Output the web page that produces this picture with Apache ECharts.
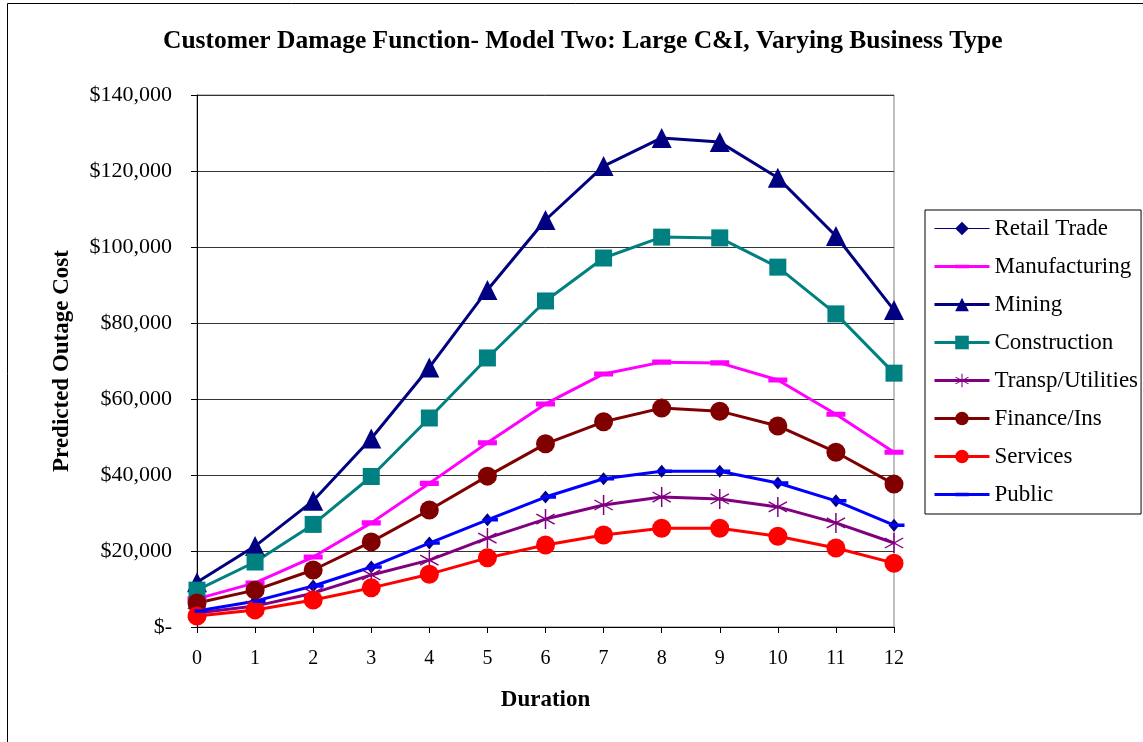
<!DOCTYPE html>
<html>
<head>
<meta charset="utf-8">
<style>
  html, body { margin: 0; padding: 0; background: #fff; }
  #chart { width: 1143px; height: 742px; }
</style>
<script src="https://cdn.jsdelivr.net/npm/echarts@6/dist/echarts.min.js"></script>
</head>
<body>
<div id="chart"></div>
<script>
// Outage duration (hours) on the category axis
const durations = ['0', '1', '2', '3', '4', '5', '6', '7', '8', '9', '10', '11', '12'];

// Predicted outage cost ($) by business type
const retailTrade   = [4200, 6800, 10800, 15800, 22100, 28200, 34200, 39000, 41000, 41000, 37900, 33200, 26800];
const manufacturing = [7400, 11600, 18400, 27400, 37800, 48500, 58700, 66600, 69700, 69500, 65000, 56000, 46000];
const mining        = [11800, 21300, 33200, 49600, 68300, 88700, 107100, 121300, 128700, 127600, 118200, 102900, 83400];
const construction  = [9700, 17100, 27000, 39600, 55000, 70800, 85800, 97100, 102600, 102400, 94700, 82400, 66800];
const transpUtil    = [3700, 5500, 8900, 13700, 17600, 23400, 28400, 32100, 34200, 33700, 31600, 27400, 22100];
const financeIns    = [6300, 9700, 15000, 22400, 30800, 39700, 48200, 54000, 57600, 56800, 52900, 46000, 37600];
const services      = [2900, 4500, 7100, 10300, 13900, 18200, 21600, 24200, 26000, 26000, 23900, 20800, 16800];
const publicSector  = [4200, 6800, 10800, 15800, 22100, 28200, 34200, 39000, 41000, 41000, 37900, 33200, 26800];

// Value axis ticks
const yTicks = [0, 20000, 40000, 60000, 80000, 100000, 120000, 140000];

const FONT = "'Liberation Serif', 'Times New Roman', serif";

// Marker shapes. The dash keeps a square bounding box (two tiny corner specks)
// so it stays a flat bar both on the lines and in the legend.
const dashSymbol = 'path://M0,0L0.01,0L0.01,0.01Z M12,12L11.99,12L11.99,11.99Z M0,4.4L12,4.4L12,7.6L0,7.6Z';
const starSymbol = 'path://M-0.7,-10L0.7,-10L0.7,10L-0.7,10Z' +
  'M8.3,5.6L-8.96,-4.44L-8.3,-5.6L8.96,4.44Z' +
  'M8.96,-4.44L-8.3,5.6L-8.96,4.44L8.3,-5.6Z';

function lineSeries(name, data, color, width, symbol, size, extra) {
  return Object.assign({
    name: name,
    type: 'line',
    data: data,
    symbol: symbol,
    symbolSize: size,
    showSymbol: true,
    showAllSymbol: true,
    color: color,
    lineStyle: { color: color, width: width },
    itemStyle: { color: color },
    emphasis: { disabled: true },
    animation: false
  }, extra || {});
}

function legendEntry(name, width) {
  return { name: name, lineStyle: { width: width } };
}

const chart = echarts.init(document.getElementById('chart'), null, { renderer: 'canvas' });

chart.setOption({
  backgroundColor: '#ffffff',
  animation: false,
  title: {
    text: 'Customer Damage Function- Model Two: Large C&I, Varying Business Type',
    left: 163,
    top: 28,
    padding: 0,
    textStyle: { fontFamily: FONT, fontSize: 25.5, fontWeight: 'bold', color: '#000' }
  },
  graphic: [{
    type: 'rect',
    shape: { x: 7.5, y: 3.5, width: 1200, height: 800 },
    style: { fill: 'none', stroke: '#000', lineWidth: 1 },
    silent: true
  }],
  legend: {
    orient: 'vertical',
    left: 925,
    top: 210,
    padding: [7, 3, 8, 8],
    itemWidth: 55,
    itemHeight: 17,
    itemGap: 15,
    borderColor: '#000',
    borderWidth: 1,
    backgroundColor: '#fff',
    selectedMode: false,
    textStyle: { fontFamily: FONT, fontSize: 23, color: '#000', lineHeight: 23 },
    data: [
      legendEntry('Retail Trade', 1),
      legendEntry('Manufacturing', 3),
      legendEntry('Mining', 3),
      legendEntry('Construction', 3),
      legendEntry('Transp/Utilities', 3),
      legendEntry('Finance/Ins', 3),
      legendEntry('Services', 3),
      legendEntry('Public', 3)
    ]
  },
  grid: {
    left: 197,
    right: 249,
    top: 95,
    bottom: 115,
    show: true,
    borderColor: '#808080',
    borderWidth: 1,
    backgroundColor: '#fff'
  },
  xAxis: {
    type: 'category',
    data: durations,
    boundaryGap: false,
    name: 'Duration',
    nameLocation: 'middle',
    nameGap: 62,
    nameTextStyle: { fontFamily: FONT, fontSize: 23, fontWeight: 'bold', color: '#000' },
    axisLine: { lineStyle: { color: '#000', width: 1 } },
    axisTick: { show: true, length: 6, inside: false, alignWithLabel: true, lineStyle: { color: '#000' } },
    axisLabel: { fontFamily: FONT, fontSize: 20, color: '#000', margin: 22 },
    splitLine: { show: false }
  },
  yAxis: {
    type: 'value',
    min: yTicks[0],
    max: yTicks[yTicks.length - 1],
    interval: yTicks[1] - yTicks[0],
    name: 'Predicted Outage Cost',
    nameLocation: 'middle',
    nameGap: 123,
    nameTextStyle: { fontFamily: FONT, fontSize: 23, fontWeight: 'bold', color: '#000' },
    axisLine: { show: true, lineStyle: { color: '#000', width: 1 } },
    axisTick: { show: true, length: 6, inside: false, lineStyle: { color: '#000' } },
    axisLabel: {
      fontFamily: FONT, fontSize: 22, color: '#000', margin: 25,
      formatter: v => v === 0 ? '$-' : '$' + v.toLocaleString('en-US')
    },
    splitLine: { show: true, lineStyle: { color: '#333', width: 1 } }
  },
  series: [
    lineSeries('Retail Trade', retailTrade, '#000080', 1, 'diamond', [11, 13], { z: 2 }),
    lineSeries('Manufacturing', manufacturing, '#FF00FF', 3, dashSymbol, 19),
    lineSeries('Mining', mining, '#000080', 3, 'triangle', 20),
    lineSeries('Construction', construction, '#008080', 3, 'rect', 17),
    lineSeries('Transp/Utilities', transpUtil, '#800080', 3, starSymbol, [19, 20]),
    lineSeries('Finance/Ins', financeIns, '#800000', 3, 'circle', 19),
    lineSeries('Services', services, '#FF0000', 3, 'circle', 19),
    lineSeries('Public', publicSector, '#0000FF', 3, dashSymbol, 13, { symbolOffset: [4, 0] })
  ]
});
</script>
</body>
</html>
